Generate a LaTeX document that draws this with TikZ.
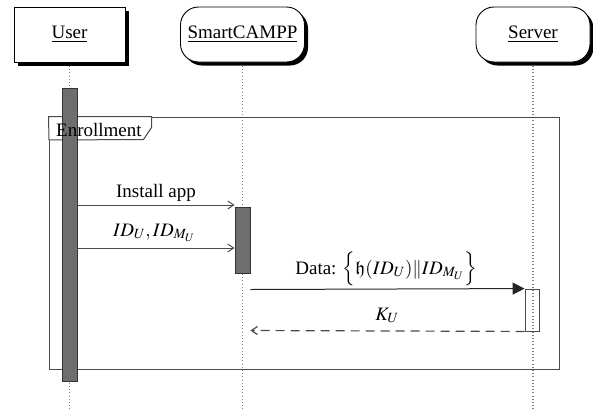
\documentclass[tikz,border=0pt]{standalone}
\usepackage{amsmath,amssymb}
\usepackage{mathptmx}
\usepackage[no-math]{fontspec}
\setmainfont{Liberation Serif}
\usetikzlibrary{shadows,arrows.meta}

\definecolor{linegray}{HTML}{4A4A4A}
\definecolor{bargray}{HTML}{6E6E6E}

\tikzset{
  actorbox/.style={draw=black, line width=0.9pt, fill=white, minimum height=55pt, inner sep=4pt,
    drop shadow={shadow xshift=3.5pt, shadow yshift=-3.5pt, fill=black, opacity=1}},
  roundbox/.style={actorbox, rounded corners=18pt},
  lifeline/.style={draw=gray, line width=1.1pt, dash pattern=on 1pt off 2.2pt},
  actbar/.style={draw=black!80, line width=0.8pt, fill=bargray, minimum width=15pt, inner sep=0pt},
  actopen/.style={draw=linegray, line width=0.9pt, minimum width=14pt, inner sep=0pt},
  syncmsg/.style={draw=linegray, line width=1pt, -{Straight Barb[length=6pt,width=8pt]}},
  callmsg/.style={draw=black!85, line width=1pt, -{Triangle[length=12pt,width=12pt]}},
  replymsg/.style={draw=linegray, line width=1.2pt, dash pattern=on 9pt off 6pt,
    -{Straight Barb[length=6pt,width=8pt]}},
  framebox/.style={draw=linegray, line width=1pt, inner sep=0pt},
  msglabel/.style={anchor=base, inner sep=0pt, text=black}
}

\begin{document}
\begin{tikzpicture}[x=1pt, y=-1pt, font=\fontsize{19}{22}\selectfont]
\useasboundingbox (0,0) rectangle (593,410);

% participants
\node[actorbox, minimum width=111pt] (user) at (69.5,34.5) {\underline{User}};
\node[roundbox, minimum width=124pt] (app) at (242.5,34.5) {\underline{SmartCAMPP}};
\node[roundbox, minimum width=114pt] (server) at (533,34.5) {\underline{Server}};

% lifeline ends
\coordinate (userend) at (69.5,410);
\coordinate (append) at (242.5,410);
\coordinate (serverend) at (533,410);

% lifelines
\draw[lifeline] ([yshift=-3.5pt]user.south) -- (userend);
\draw[lifeline] ([yshift=-3.5pt]app.south) -- (append);
\draw[lifeline] ([yshift=-3.5pt]server.south) -- (serverend);

% combined fragment
\node[framebox, minimum width=510pt, minimum height=252pt] (frame) at (304,243) {};
\coordinate (tabbot) at (49,140);
\draw[framebox, fill=white] (frame.north west) -- ++(103,0) -- ++(0,11) -- ++(-8,12)
  -- (tabbot) -- cycle;

% activation bars
\node[actbar, minimum height=293pt] (useract) at (69.5,234.5) {};
\node[actbar, minimum height=66pt] (appact) at (242.5,240) {};
\node[actopen, minimum height=42pt] (serveract) at (532,310) {};

% fragment name, set above the bar
\node[anchor=base west, inner sep=0pt, text=black] (tablabel) at (56,136) {Enrollment};

% messages
\coordinate (m1a) at (useract.east |- 0,205);
\coordinate (m1b) at (appact.west |- 0,205);
\coordinate (m2a) at (useract.east |- 0,248);
\coordinate (m2b) at (appact.west |- 0,248);
\coordinate (m3a) at (appact.east |- 0,289.5);
\coordinate (m4b) at (appact.east |- 0,330.5);

\draw[syncmsg] (m1a) -- (m1b);
\draw[syncmsg] (m2a) -- (m2b);
\draw[callmsg] (m3a) -- (serveract.north west);
\draw[replymsg] (serveract.south west) -- (m4b);

% message labels
\node[msglabel] (l1) at (156,197) {Install app};
\node[msglabel] (l2) at (154,236) {$ID_U, ID_{M_U}$};
\node[msglabel] (l3) at (386,274) {Data: $\Big\{\mathfrak{h}(ID_U)\Vert ID_{M_U}\Big\}$};
\node[msglabel] (l4) at (387,320) {$K_U$};
\end{tikzpicture}
\end{document}
